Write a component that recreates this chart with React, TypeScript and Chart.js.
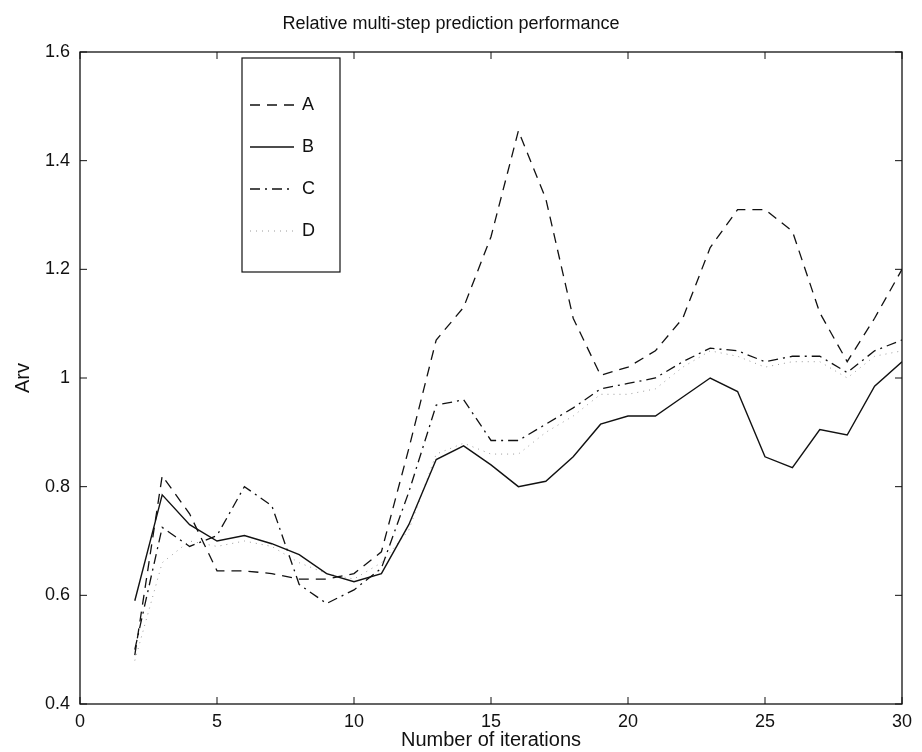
import { useEffect, useRef } from "react";
import { Chart, registerables } from "chart.js";

Chart.register(...registerables);

const chartTitle = "Relative multi-step prediction performance";
const xAxisTitle = "Number of iterations";
const yAxisTitle = "Arv";

const iterations = [2, 3, 4, 5, 6, 7, 8, 9, 10, 11, 12, 13, 14, 15, 16, 17, 18, 19, 20, 21, 22, 23, 24, 25, 26, 27, 28, 29, 30];

const seriesA = [0.49, 0.82, 0.75, 0.645, 0.645, 0.64, 0.63, 0.63, 0.64, 0.68, 0.87, 1.07, 1.13, 1.26, 1.455, 1.33, 1.11, 1.005, 1.02, 1.05, 1.11, 1.24, 1.31, 1.31, 1.27, 1.12, 1.03, 1.11, 1.2];
const seriesB = [0.59, 0.785, 0.73, 0.7, 0.71, 0.695, 0.675, 0.64, 0.625, 0.64, 0.73, 0.85, 0.875, 0.84, 0.8, 0.81, 0.855, 0.915, 0.93, 0.93, 0.965, 1.0, 0.975, 0.855, 0.835, 0.905, 0.895, 0.985, 1.03];
const seriesC = [0.5, 0.725, 0.69, 0.71, 0.8, 0.765, 0.62, 0.585, 0.61, 0.65, 0.79, 0.95, 0.96, 0.885, 0.885, 0.915, 0.945, 0.98, 0.99, 1.0, 1.03, 1.055, 1.05, 1.03, 1.04, 1.04, 1.01, 1.05, 1.07];
const seriesD = [0.48, 0.66, 0.7, 0.69, 0.7, 0.69, 0.66, 0.64, 0.63, 0.66, 0.72, 0.86, 0.88, 0.86, 0.86, 0.9, 0.93, 0.97, 0.97, 0.98, 1.02, 1.05, 1.04, 1.02, 1.03, 1.03, 1.0, 1.04, 1.05];

const seriesLabels = ["A", "B", "C", "D"];

const xTicks = [0, 5, 10, 15, 20, 25, 30];
const yTicks = [0.4, 0.6, 0.8, 1.0, 1.2, 1.4, 1.6];

const INK = "#111111";
const FONT = "'Liberation Sans', Arial, Helvetica, sans-serif";

const framePlugin = {
  id: "frameTicks",
  afterDatasetsDraw(chart: any) {
    const { ctx, chartArea, scales } = chart;
    const { left, right, top, bottom } = chartArea;
    const len = 7;
    ctx.save();
    ctx.strokeStyle = INK;
    ctx.lineWidth = 1.3;
    ctx.strokeRect(left, top, right - left, bottom - top);
    ctx.lineWidth = 1;
    ctx.beginPath();
    for (const v of xTicks) {
      const px = scales.x.getPixelForValue(v);
      ctx.moveTo(px, bottom);
      ctx.lineTo(px, bottom - len);
      ctx.moveTo(px, top);
      ctx.lineTo(px, top + len);
    }
    for (const v of yTicks) {
      const py = scales.y.getPixelForValue(v);
      ctx.moveTo(left, py);
      ctx.lineTo(left + len, py);
      ctx.moveTo(right, py);
      ctx.lineTo(right - len, py);
    }
    ctx.stroke();
    ctx.restore();
  },
};

const legendPlugin = {
  id: "boxLegend",
  afterDraw(chart: any) {
    const { ctx, chartArea } = chart;
    const boxLeft = chartArea.left + 162;
    const boxTop = chartArea.top + 6;
    const boxW = 98;
    const rowH = 42;
    const boxH = 214;
    ctx.save();
    ctx.fillStyle = "#ffffff";
    ctx.fillRect(boxLeft, boxTop, boxW, boxH);
    ctx.strokeStyle = INK;
    ctx.lineWidth = 1.2;
    ctx.strokeRect(boxLeft, boxTop, boxW, boxH);
    ctx.font = `18px ${FONT}`;
    ctx.textBaseline = "middle";
    ctx.textAlign = "left";
    chart.data.datasets.forEach((ds: any, i: number) => {
      const y = boxTop + 47 + i * rowH;
      ctx.beginPath();
      ctx.setLineDash(ds.borderDash || []);
      ctx.strokeStyle = ds.borderColor;
      ctx.lineWidth = ds.borderWidth;
      ctx.moveTo(boxLeft + 8, y);
      ctx.lineTo(boxLeft + 52, y);
      ctx.stroke();
      ctx.setLineDash([]);
      ctx.fillStyle = INK;
      ctx.fillText(ds.label, boxLeft + 60, y);
    });
    ctx.restore();
  },
};

export default function App() {
  const canvasRef = useRef<HTMLCanvasElement | null>(null);

  useEffect(() => {
    const canvas = canvasRef.current;
    if (!canvas) return;
    const seriesValues = [seriesA, seriesB, seriesC, seriesD];
    const styles = [
      { borderDash: [10, 7], borderColor: INK, borderWidth: 1.3 },
      { borderDash: [], borderColor: INK, borderWidth: 1.4 },
      { borderDash: [10, 5, 2, 5], borderColor: INK, borderWidth: 1.3 },
      { borderDash: [1, 5], borderColor: "#9a9a9a", borderWidth: 1 },
    ];
    const chart = new Chart(canvas, {
      type: "line",
      data: {
        datasets: seriesValues.map((vals, i) => ({
          label: seriesLabels[i],
          data: iterations.map((x, j) => ({ x, y: vals[j] })),
          ...styles[i],
          pointRadius: 0,
          tension: 0,
          fill: false,
        })),
      },
      options: {
        animation: false,
        responsive: false,
        maintainAspectRatio: false,
        layout: { padding: { left: 0, right: 20, top: 0, bottom: 0 } },
        plugins: {
          legend: { display: false },
          tooltip: { enabled: false },
          title: {
            display: true,
            text: chartTitle,
            color: INK,
            font: { family: FONT, size: 18, weight: "normal" },
            padding: { top: 13, bottom: 17.4 },
          },
        },
        scales: {
          x: {
            type: "linear",
            min: 0,
            max: 30,
            afterBuildTicks: (s: any) => {
              s.ticks = xTicks.map((v) => ({ value: v }));
            },
            afterFit: (s: any) => {
              s.height = 48;
            },
            grid: { display: false, drawTicks: false },
            border: { display: false },
            ticks: {
              color: INK,
              font: { family: FONT, size: 18 },
              padding: 7,
              maxRotation: 0,
              callback: (v: any) => String(v),
            },
            title: {
              display: true,
              text: xAxisTitle,
              color: INK,
              font: { family: FONT, size: 20 },
              padding: { top: 0, bottom: 0 },
            },
          },
          y: {
            type: "linear",
            min: 0.4,
            max: 1.6,
            afterBuildTicks: (s: any) => {
              s.ticks = yTicks.map((v) => ({ value: v }));
            },
            afterFit: (s: any) => {
              s.width = 80;
            },
            grid: { display: false, drawTicks: false },
            border: { display: false },
            ticks: {
              color: INK,
              font: { family: FONT, size: 18 },
              padding: 10,
              callback: (v: any) => String(Number(Number(v).toFixed(1))),
            },
            title: {
              display: true,
              text: yAxisTitle,
              color: INK,
              font: { family: FONT, size: 20 },
              padding: { top: 11, bottom: 0 },
            },
          },
        },
      },
      plugins: [framePlugin, legendPlugin],
    });
    return () => chart.destroy();
  }, []);

  return (
    <div style={{ position: "absolute", left: 0, top: 0, width: 922, height: 752, background: "#fff" }}>
      <canvas ref={canvasRef} width={922} height={752} style={{ display: "block" }} />
    </div>
  );
}
